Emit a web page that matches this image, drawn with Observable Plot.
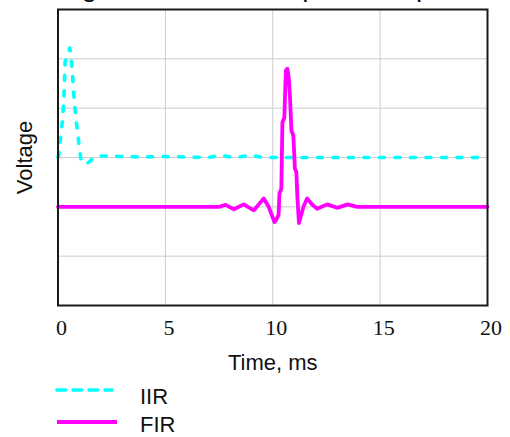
<!DOCTYPE html>
<html>
<head>
<meta charset="utf-8">
<script src="https://cdn.jsdelivr.net/npm/d3@7"></script>
<script src="https://cdn.jsdelivr.net/npm/@observablehq/plot@0.6"></script>
<style>
  html, body { margin: 0; padding: 0; background: white; }
  #wrap { position: relative; width: 510px; height: 437px; overflow: hidden; font-family: "Liberation Sans", Arial, sans-serif; color: #111; }
  #title { position: absolute; left: 55px; top: -26.7px; font-size: 28px; line-height: 28px; white-space: nowrap; }
  .lg-line { position: absolute; left: 55px; }
  .lg-text { position: absolute; left: 140px; font-size: 22px; line-height: 22px; }
</style>
</head>
<body>
<div id="wrap">
  <div id="chart"></div>
  <div id="title">Digital IIR vs FIR impulse responses</div>
</div>
<script>
// ---- data ----
const xTicks = [0, 5, 10, 15, 20];
const xTickLabels = ["0", "5", "10", "15", "20"];
const xGrid = [5, 10, 15];
const yGrid = [-2, -1, 0, 1, 2];

const iirTime = [0, 0.05, 0.13, 0.21, 0.26, 0.29, 0.33, 0.44, 0.55, 0.62, 0.68, 0.74, 0.82, 0.90, 0.98, 1.06, 1.2, 1.3, 1.45, 1.65, 1.84, 2.4, 3.0, 4.0, 5.0, 6.0, 7.0, 7.57, 8.2, 8.96, 9.6, 20];
const iirVolt = [0, 0.08, 0.45, 0.75, 1.06, 1.39, 1.94, 2.07, 2.22, 1.98, 1.65, 1.25, 0.85, 0.55, 0.25, -0.02, -0.12, -0.14, -0.09, -0.01, 0.03, 0.03, 0.02, 0.01, 0.02, 0.01, 0.0, 0.045, 0.0, 0.045, 0.0, 0.0];

const firTime = [0, 7.5, 7.8, 8.19, 8.65, 9.12, 9.35, 9.58, 9.81, 10.08, 10.15, 10.27, 10.31, 10.40, 10.45, 10.54, 10.61, 10.68, 10.75, 10.80, 10.87, 10.96, 11.03, 11.10, 11.15, 11.22, 11.43, 11.6, 11.85, 12.07, 12.53, 13.0, 13.49, 13.93, 20];
const firVolt = [-1, -1, -0.96, -1.05, -0.95, -1.07, -0.95, -0.83, -1.0, -1.31, -1.27, -1.17, -0.73, -0.63, 0.71, 0.81, 1.76, 1.80, 1.60, 1.25, 0.55, 0.44, -0.22, -0.30, -0.83, -1.33, -1.0, -0.83, -0.96, -1.04, -0.95, -1.02, -0.95, -1.0, -1.0];

const seriesNames = ["IIR", "FIR"];
const seriesColors = ["#00ffff", "#ff00ff"];

const iir = iirTime.map((t, i) => ({t, v: iirVolt[i]}));
const fir = firTime.map((t, i) => ({t, v: firVolt[i]}));

const dash = "5,10.5";

const chart = Plot.plot({
  width: 510,
  height: 378,
  marginLeft: 57.5,
  marginRight: 23,
  marginTop: 9,
  marginBottom: 73,
  style: {fontFamily: "Liberation Sans, Arial, sans-serif", background: "white", color: "#111", overflow: "visible"},
  x: {domain: [0, 20], label: null},
  y: {domain: [-3, 3], axis: null, label: null},
  marks: [
    Plot.gridX(xGrid, {stroke: "#cccccc", strokeOpacity: 1, strokeWidth: 1}),
    Plot.gridY(yGrid, {stroke: "#cccccc", strokeOpacity: 1, strokeWidth: 1}),
    Plot.line(iir, {x: "t", y: "v", stroke: seriesColors[0], strokeWidth: 3.6, strokeDasharray: dash, strokeLinecap: "round", strokeLinejoin: "round"}),
    Plot.line(fir, {x: "t", y: "v", stroke: seriesColors[1], strokeWidth: 3.8, strokeLinejoin: "round"}),
    Plot.frame({stroke: "#1a1a1a", strokeWidth: 2}),
    Plot.axisX(xTicks, {tickSize: 0, tickPadding: 14, fontSize: 22, fontFamily: "Liberation Serif, 'Times New Roman', serif", dx: 3.5, tickFormat: (d, i) => xTickLabels[i], label: null}),
    Plot.text(["Time, ms"], {frameAnchor: "bottom", lineAnchor: "bottom", dy: 64, fontSize: 22, fill: "#111"}),
    Plot.text(["Voltage"], {frameAnchor: "left", textAnchor: "middle", lineAnchor: "middle", rotate: -90, dx: -33, fontSize: 22, fill: "#111"})
  ]
});
document.getElementById("chart").appendChild(chart);

// legend below the plot
const wrap = document.getElementById("wrap");
const rows = [
  {name: seriesNames[0], color: seriesColors[0], lineY: 390, textTop: 385.7, dashed: true},
  {name: seriesNames[1], color: seriesColors[1], lineY: 421.7, textTop: 414.4, dashed: false}
];
rows.forEach(r => {
  const svg = d3.create("svg").attr("class", "lg-line").attr("width", 64).attr("height", 20)
    .style("top", (r.lineY - 10) + "px");
  svg.append("line").attr("x1", 2).attr("x2", r.dashed ? 57 : 62).attr("y1", 10).attr("y2", 10)
    .attr("stroke", r.color).attr("stroke-width", r.dashed ? 3.6 : 3.8)
    .attr("stroke-linecap", r.dashed ? "round" : "butt")
    .attr("stroke-dasharray", r.dashed ? "8.5,7.5" : null);
  wrap.appendChild(svg.node());
  const t = document.createElement("div");
  t.className = "lg-text";
  t.style.top = r.textTop + "px";
  t.textContent = r.name;
  wrap.appendChild(t);
});
</script>
</body>
</html>
